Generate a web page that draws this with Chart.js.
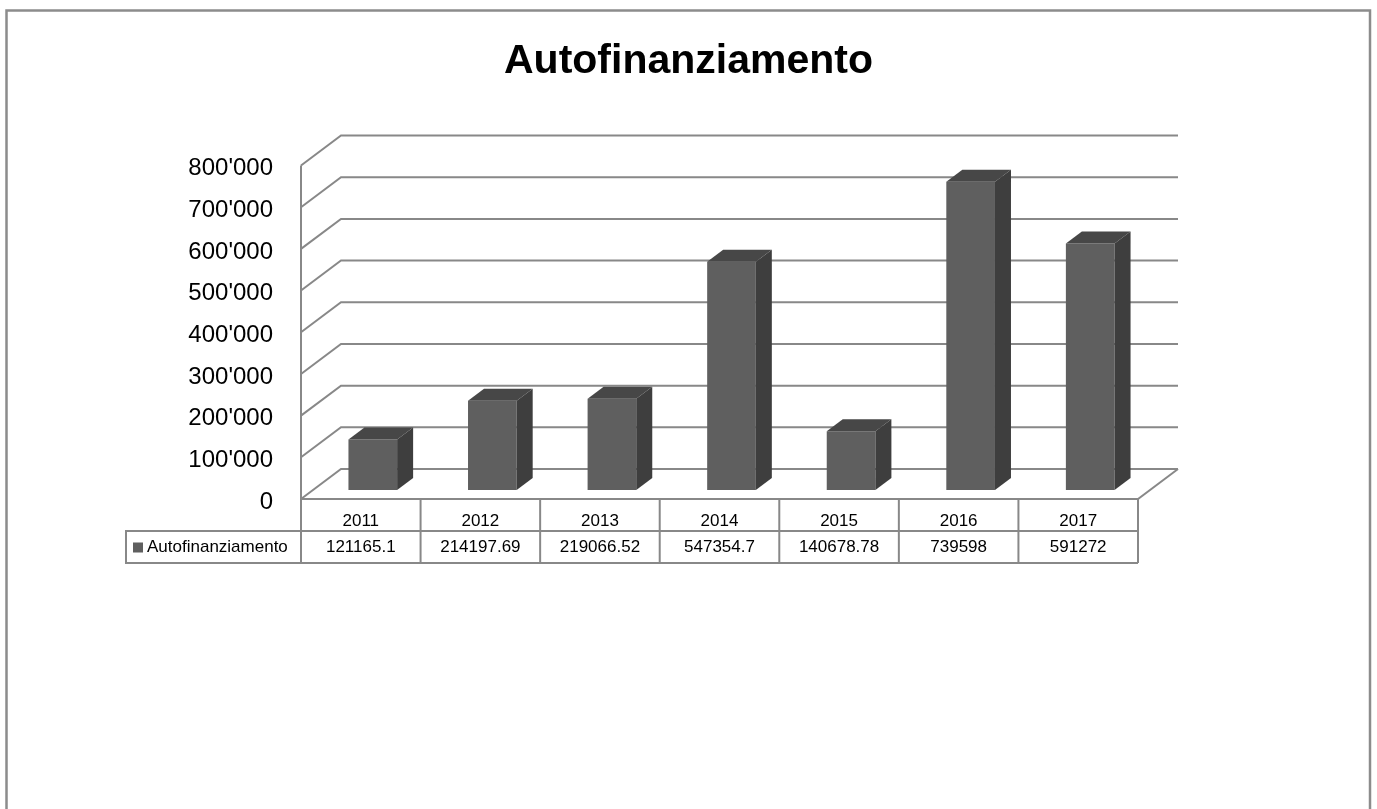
<!DOCTYPE html>
<html><head><meta charset="utf-8">
<script src="https://cdn.jsdelivr.net/npm/chart.js@4.4.0/dist/chart.umd.min.js"></script>
<style>html,body{margin:0;padding:0;background:#fff;overflow:hidden}</style>
</head><body>
<canvas id="c" width="1377" height="809"></canvas>
<script>
const chartTitle = 'Autofinanziamento';
const categories = ['2011', '2012', '2013', '2014', '2015', '2016', '2017'];
const seriesName = 'Autofinanziamento';
const values = [121165.1, 214197.69, 219066.52, 547354.7, 140678.78, 739598, 591272];
const yTickLabels = ["0", "100'000", "200'000", "300'000", "400'000", "500'000", "600'000", "700'000", "800'000"];

const FONT = "'Liberation Sans', Arial, sans-serif";
const WALL_DX = 40, WALL_DY = -30;
const BAR_FRONT = 0.3, BAR_DEPTH = 0.4;
const GRID = '#888888';
const FRONT = '#5f5f5f', TOPC = '#474747', SIDE = '#3e3e3e';
const ROW_H = 32, LEGEND_LEFT = 126;

function poly(ctx, pts, color) {
  ctx.beginPath();
  ctx.moveTo(pts[0][0], pts[0][1]);
  for (let i = 1; i < pts.length; i++) ctx.lineTo(pts[i][0], pts[i][1]);
  ctx.closePath();
  ctx.fillStyle = color;
  ctx.fill();
}

const threeD = {
  id: 'threeD',
  beforeDraw(chart) {
    const ctx = chart.ctx;
    ctx.save();
    ctx.fillStyle = '#fff';
    ctx.fillRect(0, 0, chart.width, chart.height);
    ctx.strokeStyle = '#8c8c8c';
    ctx.lineWidth = 2.5;
    ctx.strokeRect(6.5, 10.5, 1363.5, 840);
    ctx.restore();
  },
  beforeDatasetsDraw(chart) {
    const ctx = chart.ctx, a = chart.chartArea, x = chart.scales.x, y = chart.scales.y;
    const L = a.left, R = a.right, y0 = y.getPixelForValue(0);
    const r1 = y0 + ROW_H, r2 = y0 + 2 * ROW_H;
    ctx.save();
    ctx.strokeStyle = GRID;
    ctx.lineWidth = 2;
    // back wall + side wall
    y.ticks.forEach(t => {
      const py = y.getPixelForValue(t.value);
      ctx.beginPath();
      ctx.moveTo(L, py);
      ctx.lineTo(L + WALL_DX, py + WALL_DY);
      ctx.lineTo(R + WALL_DX, py + WALL_DY);
      ctx.stroke();
    });
    // vertical axis
    ctx.beginPath();
    ctx.moveTo(L, y.getPixelForValue(y.max));
    ctx.lineTo(L, r2);
    ctx.stroke();
    // floor front + right edge
    ctx.beginPath();
    ctx.moveTo(L, y0);
    ctx.lineTo(R, y0);
    ctx.lineTo(R + WALL_DX, y0 + WALL_DY);
    ctx.stroke();
    // data table
    const cw = (R - L) / categories.length;
    for (let i = 0; i <= categories.length; i++) {
      const bx = (i < categories.length ? x.getPixelForValue(i) : x.getPixelForValue(i - 1) + cw) - cw / 2;
      ctx.beginPath();
      ctx.moveTo(bx, y0);
      ctx.lineTo(bx, r2);
      ctx.stroke();
    }
    ctx.beginPath();
    ctx.moveTo(LEGEND_LEFT, r1); ctx.lineTo(R, r1);
    ctx.moveTo(LEGEND_LEFT, r2); ctx.lineTo(R, r2);
    ctx.moveTo(LEGEND_LEFT, r1 - 1); ctx.lineTo(LEGEND_LEFT, r2 + 1);
    ctx.stroke();
    // legend key + name
    const rowMid = (r1 + r2) / 2 + 0.5;
    ctx.fillStyle = FRONT;
    ctx.fillRect(LEGEND_LEFT + 7, rowMid - 5, 10, 10);
    ctx.fillStyle = '#000';
    ctx.font = '17px ' + FONT;
    ctx.textBaseline = 'middle';
    ctx.textAlign = 'left';
    ctx.fillText(seriesName, LEGEND_LEFT + 21, rowMid);
    ctx.textAlign = 'center';
    values.forEach((v, i) => ctx.fillText(String(v), x.getPixelForValue(i), rowMid));
    ctx.restore();
  },
  afterDatasetsDraw(chart) {
    const ctx = chart.ctx;
    const meta = chart.getDatasetMeta(0);
    const fdx = WALL_DX * BAR_FRONT, fdy = WALL_DY * BAR_FRONT;
    const ddx = WALL_DX * BAR_DEPTH, ddy = WALL_DY * BAR_DEPTH;
    ctx.save();
    meta.data.forEach(el => {
      const p = el.getProps(['x', 'y', 'base', 'width'], true);
      const l = p.x - p.width / 2 + fdx, r = p.x + p.width / 2 + fdx;
      const t = p.y + fdy, b = p.base + fdy;
      poly(ctx, [[l, t], [r, t], [r, b], [l, b]], FRONT);
      poly(ctx, [[l, t], [l + ddx, t + ddy], [r + ddx, t + ddy], [r, t]], TOPC);
      poly(ctx, [[r, t], [r + ddx, t + ddy], [r + ddx, b + ddy], [r, b]], SIDE);
    });
    ctx.restore();
  }
};

new Chart(document.getElementById('c'), {
  type: 'bar',
  data: {
    labels: categories,
    datasets: [{
      label: seriesName,
      data: values,
      backgroundColor: 'rgba(0,0,0,0)',
      borderWidth: 0,
      categoryPercentage: 1,
      barPercentage: 0.407
    }]
  },
  options: {
    responsive: false,
    maintainAspectRatio: false,
    animation: false,
    events: [],
    layout: { padding: { left: 0, right: 0, top: 0, bottom: 246 } },
    plugins: {
      legend: { display: false },
      tooltip: { enabled: false },
      title: {
        display: true,
        text: chartTitle,
        color: '#000',
        font: { family: FONT, size: 41, weight: 'bold' },
        padding: { top: 37, bottom: 79.3 }
      }
    },
    scales: {
      x: {
        type: 'category',
        grid: { display: false, drawTicks: false },
        border: { display: false },
        ticks: { color: '#000', font: { family: FONT, size: 17 }, padding: 12, maxRotation: 0, autoSkip: false },
        afterFit(s) { s.height = 64; }
      },
      y: {
        type: 'linear',
        position: 'left',
        min: 0,
        max: 800000,
        grid: { display: false, drawTicks: false },
        border: { display: false },
        ticks: {
          stepSize: 100000,
          color: '#000',
          padding: 28,
          labelOffset: 3,
          font: { family: FONT, size: 24 },
          callback: (v, i) => yTickLabels[i]
        },
        afterFit(s) { s.width = 301; }
      },
      yRight: {
        type: 'linear',
        position: 'right',
        display: true,
        grid: { display: false, drawTicks: false },
        border: { display: false },
        ticks: { display: false },
        afterFit(s) { s.width = 239; }
      }
    }
  },
  plugins: [threeD]
});
</script>
</body></html>
